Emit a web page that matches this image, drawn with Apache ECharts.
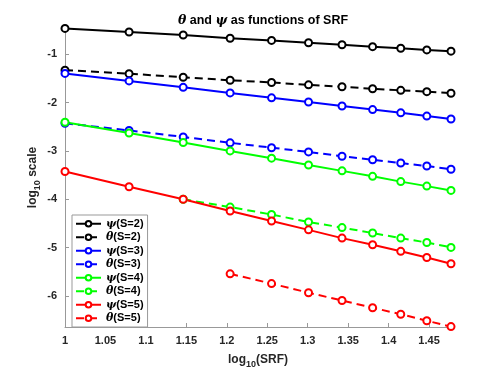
<!DOCTYPE html>
<html>
<head>
<meta charset="utf-8">
<title>theta and psi</title>
<script src="https://cdn.jsdelivr.net/npm/echarts@6/dist/echarts.min.js"></script>
</head>
<body style="margin:0">
	<div id="main" style="width: 498px; height: 374px;"></div>
	<script type="text/javascript">
		// log10(SRF), SRF = 10, 12, ..., 30
		var logSRF = [1, 1.0792, 1.1461, 1.2041, 1.2553, 1.3010, 1.3424, 1.3802, 1.4150, 1.4472, 1.4771];
		var xTicks = [1, 1.05, 1.1, 1.15, 1.2, 1.25, 1.3, 1.35, 1.4, 1.45];
		var yTicks = [-6, -5, -4, -3, -2, -1];

		var psiS2 = [-0.468, -0.543, -0.604, -0.671, -0.717, -0.766, -0.806, -0.846, -0.879, -0.913, -0.939];
		var thetaS2 = [-1.331, -1.404, -1.479, -1.540, -1.586, -1.635, -1.675, -1.715, -1.748, -1.776, -1.808];
		var psiS3 = [-1.398, -1.554, -1.687, -1.802, -1.903, -1.990, -2.071, -2.146, -2.213, -2.281, -2.342];
		var thetaS3 = [-2.429, -2.576, -2.712, -2.833, -2.934, -3.021, -3.110, -3.183, -3.251, -3.312, -3.379];
		var psiS4 = [-2.409, -2.631, -2.827, -3.001, -3.150, -3.292, -3.413, -3.526, -3.635, -3.728, -3.817];
		var thetaS4 = [null, null, -4.000, -4.161, -4.315, -4.470, -4.585, -4.698, -4.803, -4.894, -4.995];
		var psiS5 = [-3.425, -3.742, -3.999, -4.242, -4.450, -4.632, -4.803, -4.941, -5.076, -5.204, -5.333];
		var thetaS5 = [null, null, null, -5.541, -5.743, -5.931, -6.093, -6.242, -6.376, -6.511, -6.632];

		var names = ['ψ(S=2)', 'θ(S=2)', 'ψ(S=3)', 'θ(S=3)', 'ψ(S=4)', 'θ(S=4)', 'ψ(S=5)', 'θ(S=5)'];
		var values = [psiS2, thetaS2, psiS3, thetaS3, psiS4, thetaS4, psiS5, thetaS5];
		var colors = ['#000000', '#000000', '#0000ff', '#0000ff', '#00ff00', '#00ff00', '#ff0000', '#ff0000'];

		var myChart = echarts.init(document.getElementById('main'));
		var font = 'Liberation Sans';
		var greek = {fontFamily: 'DejaVu Serif', fontStyle: 'italic', fontWeight: 'bold'};

		var series = [];
		for (var i = 0; i < names.length; i++) {
			var pts = [];
			for (var j = 0; j < logSRF.length; j++) {
				if (values[i][j] !== null) pts.push([logSRF[j], values[i][j]]);
			}
			series.push({
				name: names[i],
				type: 'line',
				data: pts,
				symbol: 'emptyCircle',
				symbolSize: 7,
				showAllSymbol: true,
				color: colors[i],
				lineStyle: {width: 2, type: i % 2 ? [8, 5] : 'solid'},
				itemStyle: {borderWidth: 1.6},
				emphasis: {disabled: true},
				animation: false
			});
		}

		var option = {
			animation: false,
			title: {
				text: '{g|θ} and {g|ψ} as functions of SRF',
				left: 258,
				textAlign: 'center',
				top: 9,
				textStyle: {
					fontFamily: font, fontSize: 12.5, fontWeight: 'bold', color: '#000',
					rich: {g: Object.assign({fontSize: 12.5, color: '#000'}, greek)}
				}
			},
			grid: {left: 65, right: 47, top: 28, bottom: 41},
			legend: {
				orient: 'vertical',
				left: 72,
				top: 215,
				padding: [2, 4, 2, 3],
				itemGap: 0,
				itemWidth: 25,
				itemHeight: 7,
				borderColor: '#999',
				borderWidth: 1,
				backgroundColor: '#fff',
				data: names,
				formatter: function (n) {
					return '{g|' + n.charAt(0) + '}' + n.slice(1);
				},
				textStyle: {
					fontFamily: font, fontSize: 11, fontWeight: 'bold', color: '#000', lineHeight: 13.5,
					rich: {g: Object.assign({fontSize: 11, color: '#000'}, greek)}
				}
			},
			xAxis: {
				type: 'value',
				min: 1,
				max: 1.4771,
				name: '{a|log}{s|10}{a|(SRF)}',
				nameLocation: 'middle',
				nameGap: 24,
				nameMoveOverlap: false,
				nameTextStyle: {
					rich: {
						a: {fontFamily: font, fontSize: 12, fontWeight: 'bold', color: '#262626', lineHeight: 18},
						s: {fontFamily: font, fontSize: 9, fontWeight: 'bold', color: '#262626', lineHeight: 10, verticalAlign: 'bottom'}
					}
				},
				splitLine: {show: false},
				axisLine: {lineStyle: {color: '#999', width: 1}},
				axisTick: {inside: true, length: 4, customValues: xTicks, lineStyle: {color: '#999'}},
				axisLabel: {
					customValues: xTicks, margin: 8,
					fontFamily: font, fontSize: 11, fontWeight: 'bold', color: '#262626',
					formatter: function (v) { return String(+v.toFixed(2)); }
				}
			},
			yAxis: {
				type: 'value',
				min: -6.64,
				max: -0.46,
				name: '{a|log}{s|10}{a| scale}',
				nameLocation: 'middle',
				nameRotate: 90,
				nameGap: 23,
				nameMoveOverlap: false,
				nameTextStyle: {
					rich: {
						a: {fontFamily: font, fontSize: 12, fontWeight: 'bold', color: '#262626', lineHeight: 18},
						s: {fontFamily: font, fontSize: 9, fontWeight: 'bold', color: '#262626', lineHeight: 10, verticalAlign: 'bottom'}
					}
				},
				splitLine: {show: false},
				axisLine: {show: true, lineStyle: {color: '#999', width: 1}},
				axisTick: {show: true, inside: true, length: 4, customValues: yTicks, lineStyle: {color: '#999'}},
				axisLabel: {
					customValues: yTicks, margin: 8,
					fontFamily: font, fontSize: 11, fontWeight: 'bold', color: '#262626'
				}
			},
			series: series
		};
		myChart.setOption(option);
	</script>
</body>
</html>
